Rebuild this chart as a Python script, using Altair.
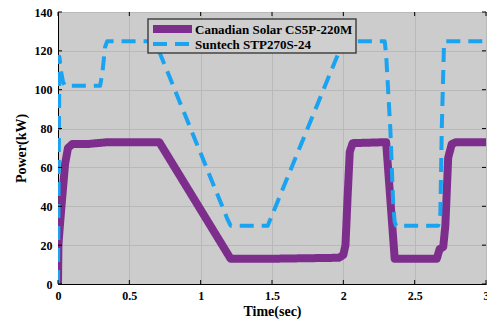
import altair as alt
import pandas as pd

series_names = ["Canadian Solar CS5P-220M", "Suntech STP270S-24"]

canadian_t = [0.0, 0.003, 0.012, 0.03, 0.05, 0.07, 0.1, 0.2, 0.35, 0.5, 0.71,
              1.21, 1.5, 1.97, 2.0, 2.015, 2.03, 2.045, 2.065, 2.3, 2.36,
              2.5, 2.655, 2.675, 2.70, 2.715, 2.735, 2.76, 2.79, 3.0]
canadian_p = [0.0, 20.0, 29.0, 45.0, 62.0, 70.0, 72.0, 72.0, 73.0, 73.0, 73.0,
              13.0, 13.0, 13.5, 15.0, 20.0, 45.0, 68.0, 72.5, 73.0, 13.0,
              13.0, 13.0, 18.0, 19.0, 30.0, 65.0, 72.0, 73.0, 73.0]

suntech_t = [0.0, 0.01, 0.02, 0.035, 0.05, 0.295, 0.31, 0.33, 0.345, 0.68,
             1.19, 1.21, 1.47, 2.0, 2.29, 2.30, 2.33, 2.35, 2.36, 2.37,
             2.665, 2.68, 2.69, 2.705, 2.715, 3.0]
suntech_p = [0.0, 117.0, 110.0, 104.0, 102.0, 102.0, 108.0, 122.0, 125.0, 125.0,
             33.0, 30.0, 30.0, 125.0, 125.0, 118.0, 79.0, 40.0, 32.0, 30.0,
             30.0, 36.0, 80.0, 122.0, 125.0, 125.0]

x_ticks = [0, 0.5, 1, 1.5, 2, 2.5, 3]
y_ticks = [0, 20, 40, 60, 80, 100, 120, 140]

colors = ["#7d2e8d", "#1aa3f0"]
dashes = [[1, 0], [14, 8]]
widths = [8, 4]

rows = []
for k, (t, p) in enumerate(zip(canadian_t, canadian_p)):
    rows.append({"series": series_names[0], "t": t, "p": p, "k": k})
for k, (t, p) in enumerate(zip(suntech_t, suntech_p)):
    rows.append({"series": series_names[1], "t": t, "p": p, "k": k})
df = pd.DataFrame(rows)

W, H = 428, 272
FONT = "Liberation Serif"

x_scale = alt.Scale(domain=[0, 3], nice=False, zero=False)
y_scale = alt.Scale(domain=[0, 140], nice=False)

x_axis = alt.Axis(values=x_ticks, title="Time(sec)", labelPadding=6, titlePadding=3,
                  format="~g", labelFlush=False, labelOverlap=False)
y_axis = alt.Axis(values=y_ticks, title="Power(kW)", labelPadding=6, titlePadding=6)

lines = alt.Chart(df).mark_line(strokeJoin="round", clip=True).encode(
    x=alt.X("t:Q", scale=x_scale, axis=x_axis),
    y=alt.Y("p:Q", scale=y_scale, axis=y_axis),
    color=alt.Color("series:N", scale=alt.Scale(domain=series_names, range=colors), legend=None),
    strokeDash=alt.StrokeDash("series:N", scale=alt.Scale(domain=series_names, range=dashes), legend=None),
    strokeWidth=alt.StrokeWidth("series:N", scale=alt.Scale(type="ordinal", domain=series_names, range=widths), legend=None),
    order="k:Q",
)

xt = pd.DataFrame({"t": x_ticks})
yt = pd.DataFrame({"p": y_ticks})
tick_color = "black"
xb = alt.Chart(xt).mark_rule(color=tick_color, strokeWidth=1).encode(
    x=alt.X("t:Q", scale=x_scale, axis=x_axis), y=alt.value(H), y2=alt.value(H - 4))
xtop = alt.Chart(xt).mark_rule(color=tick_color, strokeWidth=1).encode(
    x=alt.X("t:Q", scale=x_scale, axis=x_axis), y=alt.value(0), y2=alt.value(4))
yl = alt.Chart(yt).mark_rule(color=tick_color, strokeWidth=1).encode(
    y=alt.Y("p:Q", scale=y_scale, axis=y_axis), x=alt.value(0), x2=alt.value(4))
yr = alt.Chart(yt).mark_rule(color=tick_color, strokeWidth=1).encode(
    y=alt.Y("p:Q", scale=y_scale, axis=y_axis), x=alt.value(W), x2=alt.value(W - 4))

# manual legend (pixel positions relative to the plot area)
LX0, LX1, LY0, LY1 = 90, 298, 7, 41
row_y = [17, 32]
leg_box = alt.Chart(pd.DataFrame({"a": [0]})).mark_rect(
    fill="#cfcfcf", stroke="#444444", strokeWidth=1.5).encode(
    x=alt.value(LX0), x2=alt.value(LX1), y=alt.value(LY0), y2=alt.value(LY1))
leg_layers = [leg_box]
for i, name in enumerate(series_names):
    d = pd.DataFrame({"series": [name]})
    leg_layers.append(alt.Chart(d).mark_rule(
        color=colors[i], strokeWidth=widths[i], strokeDash=dashes[i]).encode(
        x=alt.value(95), x2=alt.value(134), y=alt.value(row_y[i])))
    leg_layers.append(alt.Chart(d).mark_text(
        align="left", baseline="middle", font=FONT, fontWeight="bold",
        fontSize=13, color="black").encode(
        text="series:N", x=alt.value(137), y=alt.value(row_y[i] + 0.5)))

chart = alt.layer(lines, xb, xtop, yl, yr, *leg_layers).properties(
    width=W, height=H,
    padding={"left": 58, "top": 12, "right": 1, "bottom": 41},
    autosize=alt.AutoSizeParams(type="none"),
    background="white",
).configure_view(
    fill="#cccccc", stroke="black", strokeWidth=1,
).configure_axis(
    domainColor="black", domainWidth=1, ticks=False,
    grid=True, gridColor="#b9b9b9", gridWidth=1,
    labelFont=FONT, labelFontWeight="bold", labelFontSize=12, labelColor="black",
    titleFont=FONT, titleFontWeight="bold", titleFontSize=14, titleColor="black",
)

chart.save("out.html", embed_options={"renderer": "svg", "actions": False})
